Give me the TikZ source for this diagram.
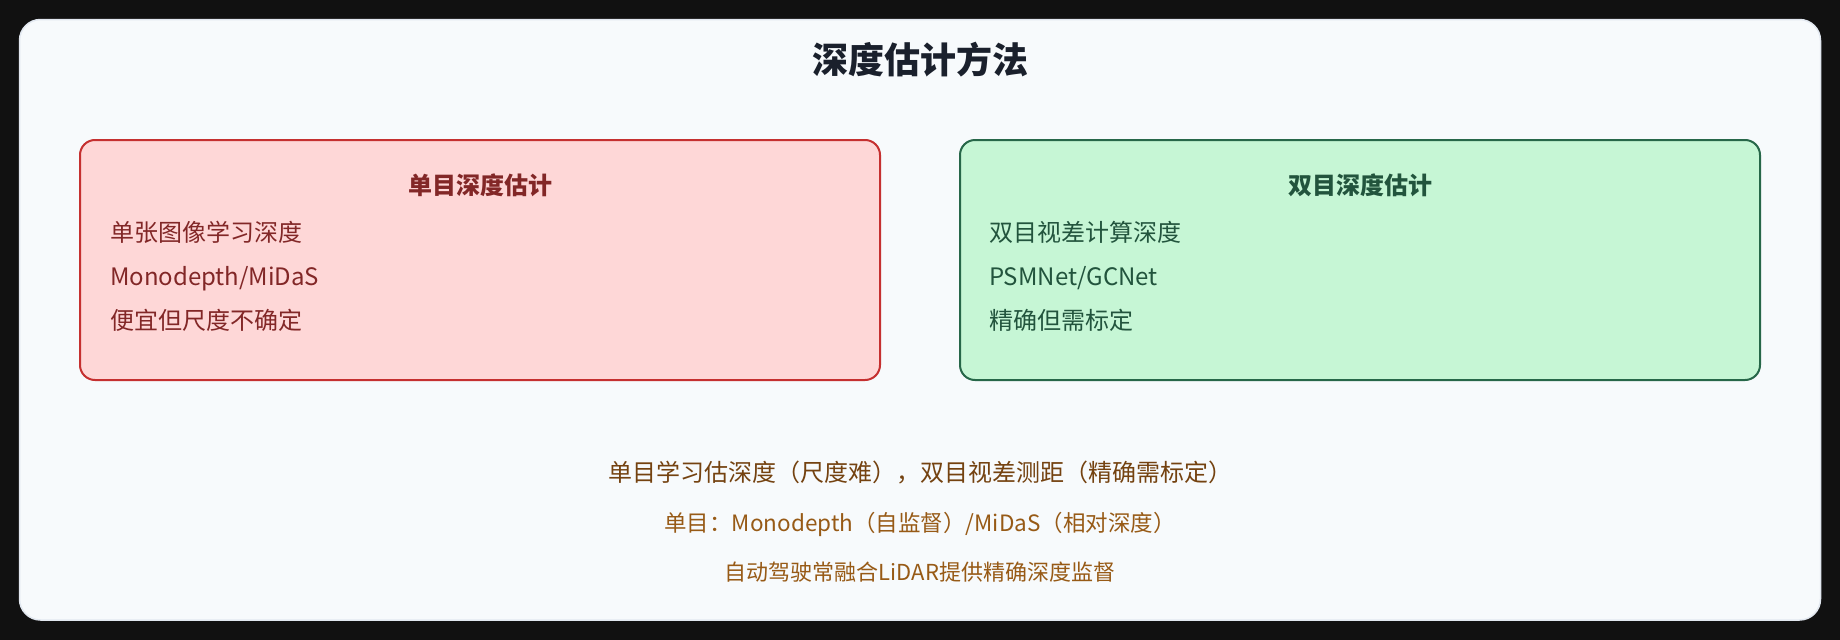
\documentclass[tikz,border=0pt]{standalone}
\usepackage{fontspec}
\setmainfont{Noto Sans CJK SC}
\newfontfamily\cjk{Noto Sans CJK SC}
\definecolor{bgdark}{HTML}{111111}
\definecolor{panelfill}{HTML}{F7FAFC}
\definecolor{panelline}{HTML}{E2E8F0}
\definecolor{titlecol}{HTML}{1A202C}
\definecolor{monofill}{HTML}{FED7D7}
\definecolor{monoline}{HTML}{C53030}
\definecolor{monotext}{HTML}{822727}
\definecolor{stfill}{HTML}{C6F6D5}
\definecolor{stline}{HTML}{276749}
\definecolor{sttext}{HTML}{22543D}
\definecolor{notea}{HTML}{744210}
\definecolor{noteb}{HTML}{975A16}
\tikzset{
  txt/.style={inner sep=0pt, outer sep=0pt, font=\cjk\fontsize{24}{28}\selectfont},
  boxtitle/.style={txt, anchor=base, font=\cjk\bfseries\fontsize{24}{28}\selectfont},
  item/.style={txt, anchor=base west},
  note/.style={txt, anchor=base},
  smallnote/.style={note, text=noteb, font=\cjk\fontsize{22}{26}\selectfont},
  methodbox/.style={rounded corners=15pt, line width=2pt},
}
\begin{document}
\begin{tikzpicture}[x=1pt,y=-1pt]
\useasboundingbox (0,0) rectangle (1840,640);
\fill[bgdark] (0,0) rectangle (1840,640);
\draw[panelline, fill=panelfill, line width=1.5pt, rounded corners=21pt] (19.5,19.5) rectangle (1820.5,620);
\node[txt, anchor=base, text=titlecol, font=\cjk\bfseries\fontsize{36}{42}\selectfont] (title) at (920,73) {深度估计方法};

% monocular box
\draw[methodbox, draw=monoline, fill=monofill] (80,140) rectangle (880,380);
\node[boxtitle, text=monotext] (monot) at (480,194) {单目深度估计};
\node[item, text=monotext] (m1) at (110,241) {单张图像学习深度};
\node[item, text=monotext] (m2) at (110,285) {Monodepth/MiDaS};
\node[item, text=monotext] (m3) at (110,329) {便宜但尺度不确定};

% stereo box
\draw[methodbox, draw=stline, fill=stfill] (960,140) rectangle (1760,380);
\node[boxtitle, text=sttext] (stt) at (1360,194) {双目深度估计};
\node[item, text=sttext] (s1) at (989,241) {双目视差计算深度};
\node[item, text=sttext] (s2) at (989,285) {PSMNet/GCNet};
\node[item, text=sttext] (s3) at (989,329) {精确但需标定};

% notes
\node[note, text=notea] (n1) at (920,481) {单目学习估深度（尺度难），双目视差测距（精确需标定）};
\node[smallnote, font=\cjk\fontsize{22.5}{26}\selectfont] (n2) at (920,531) {单目：Monodepth（自监督）/MiDaS（相对深度）};
\node[smallnote] (n3) at (920,580) {自动驾驶常融合LiDAR提供精确深度监督};
\end{tikzpicture}
\end{document}
